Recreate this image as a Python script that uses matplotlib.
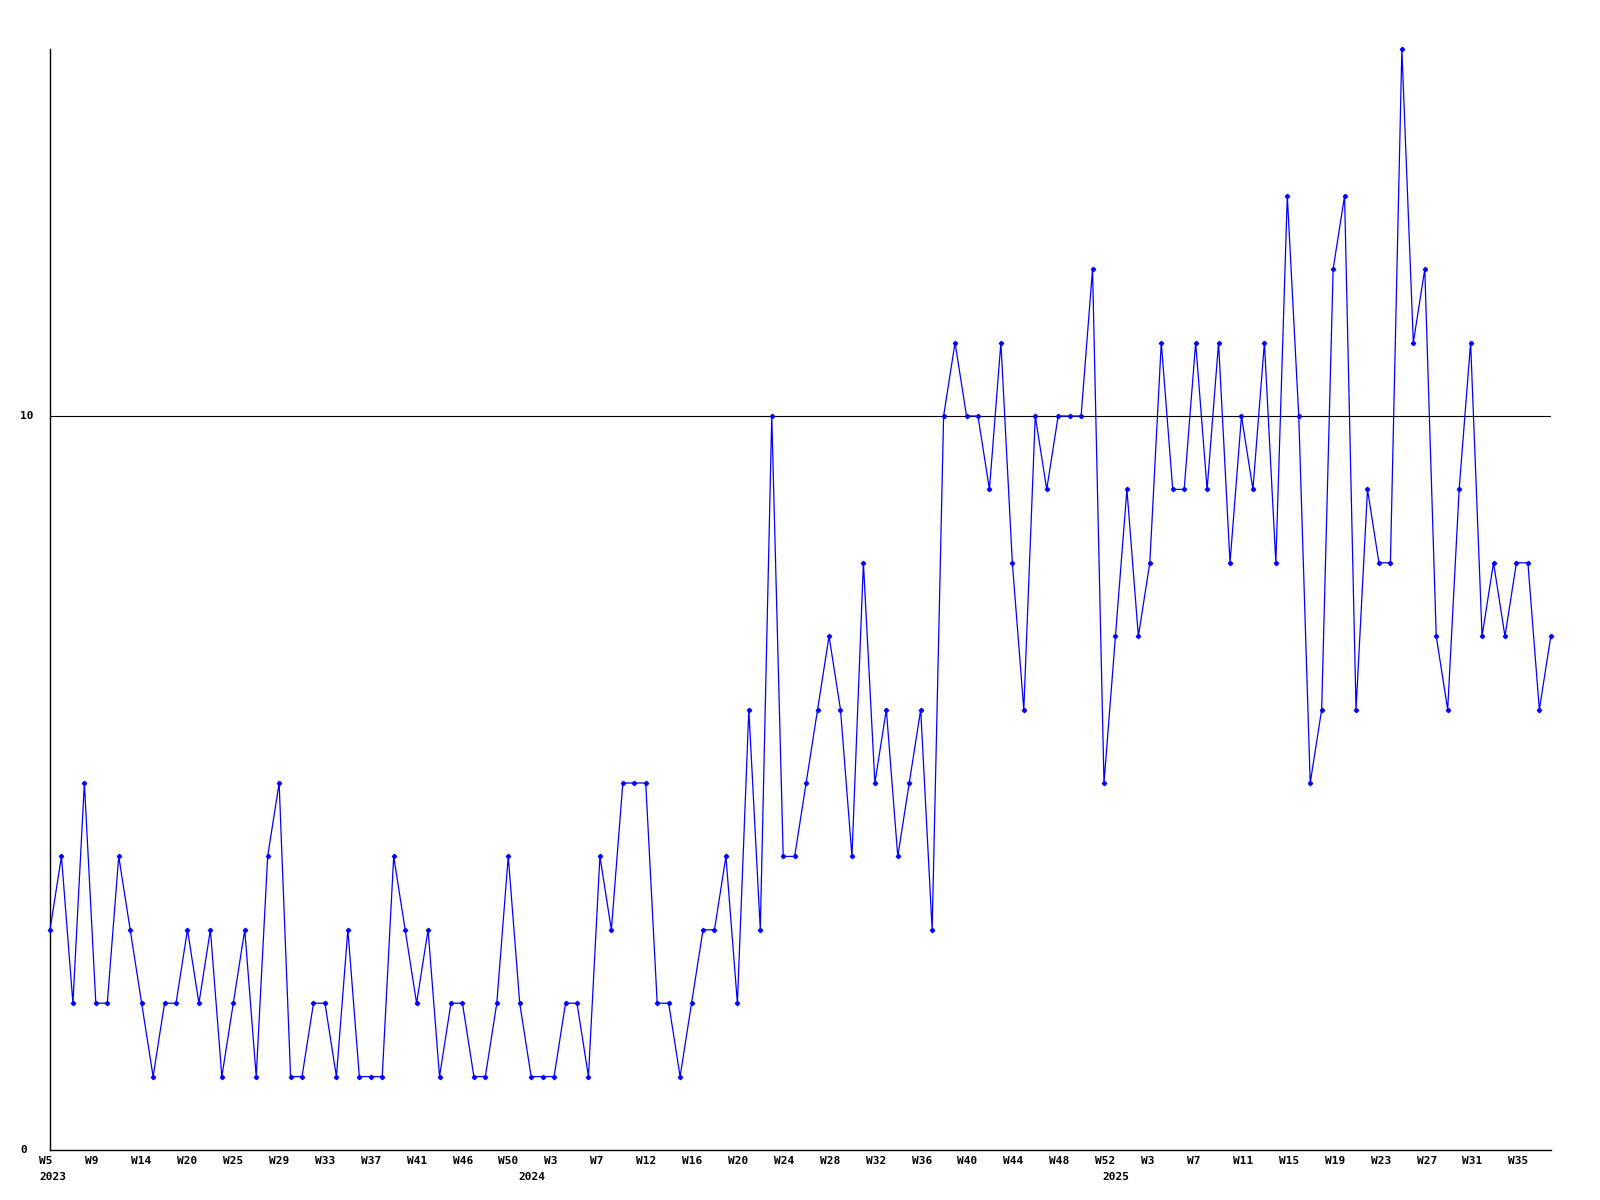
import numpy as np
import matplotlib
matplotlib.use('Agg')
import matplotlib.pyplot as plt

# weekly values
values = [3, 4, 2, 5, 2, 2, 4, 3, 2, 1, 2, 2, 3, 2, 3, 1, 2, 3, 1, 4,
          5, 1, 1, 2, 2, 1, 3, 1, 1, 1, 4, 3, 2, 3, 1, 2, 2, 1, 1, 2,
          4, 2, 1, 1, 1, 2, 2, 1, 4, 3, 5, 5, 5, 2, 2, 1, 2, 3, 3, 4,
          2, 6, 3, 10, 4, 4, 5, 6, 7, 6, 4, 8, 5, 6, 4, 5, 6, 3, 10, 11,
          10, 10, 9, 11, 8, 6, 10, 9, 10, 10, 10, 12, 5, 7, 9, 7, 8, 11, 9, 9,
          11, 9, 11, 8, 10, 9, 11, 8, 13, 10, 5, 6, 12, 13, 6, 9, 8, 8, 15, 11,
          12, 7, 6, 9, 11, 7, 8, 7, 8, 8, 6, 7]

week_labels = ['W5', 'W9', 'W14', 'W20', 'W25', 'W29', 'W33', 'W37', 'W41', 'W46', 'W50',
               'W3', 'W7', 'W12', 'W16', 'W20', 'W24', 'W28', 'W32', 'W36', 'W40', 'W44',
               'W48', 'W52', 'W3', 'W7', 'W11', 'W15', 'W19', 'W23', 'W27', 'W31', 'W35']
years = ['2023', '2024', '2025']
year_pos = [-0.93, 40.9, 91.9]  # in point index units

y_ticks = [0, 10]
ref_level = 10

x = np.arange(len(values))

fig = plt.figure(figsize=(16, 12), dpi=100)
ax = fig.add_axes([0.03125, 0.04167, 0.938, 0.9175])

ax.axhline(ref_level, color='black', lw=0.8, zorder=1)
ax.plot(x, values, color='#0000ff', lw=0.9, marker='D', markersize=2.2,
        clip_on=False, zorder=3)

ax.set_xlim(0, len(values) - 1)
ax.set_ylim(0, 15)
ax.spines['top'].set_visible(False)
ax.spines['right'].set_visible(False)
ax.spines['left'].set_linewidth(1)
ax.spines['bottom'].set_linewidth(1)
ax.set_xticks([])
ax.set_yticks([])

font = dict(family='DejaVu Sans Mono', fontweight='bold', fontsize=8)

# x labels, left aligned, about every 4 points
for k, lab in enumerate(week_labels):
    ax.text(-0.93 + 4.007 * k, -0.010, lab, transform=ax.get_xaxis_transform(),
            ha='left', va='center', clip_on=False, **font)
for lab, p in zip(years, year_pos):
    ax.text(p, -0.0245, lab, transform=ax.get_xaxis_transform(),
            ha='left', va='center', clip_on=False, **font)

# y labels
for v in y_ticks:
    ax.text(-30 / 1500, v, str(v), transform=ax.get_yaxis_transform(),
            ha='left', va='center', clip_on=False, **font)

plt.savefig('out.png', dpi=100)
